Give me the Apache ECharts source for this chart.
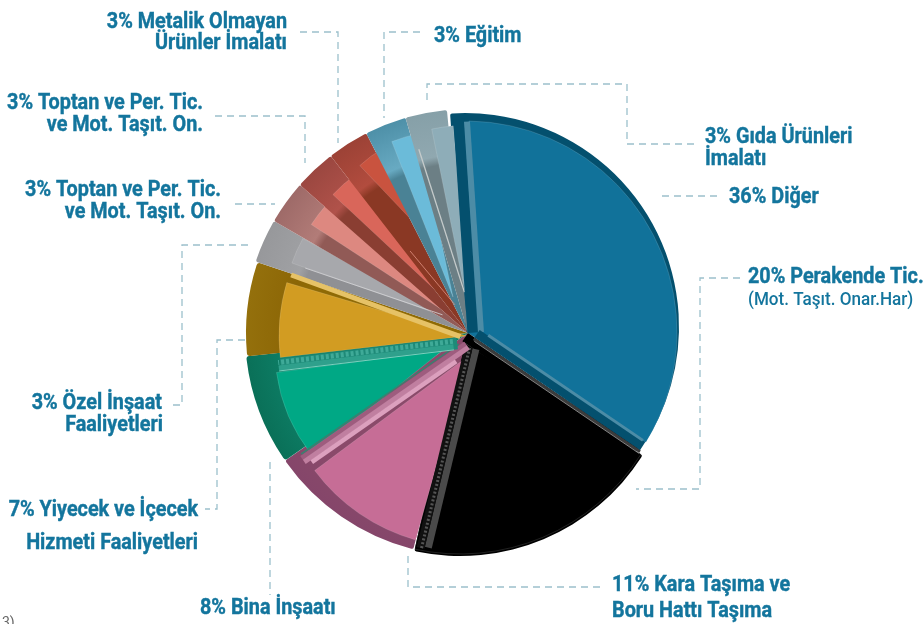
<!DOCTYPE html>
<html><head><meta charset="utf-8">
<style>html,body{margin:0;padding:0;background:#fff}#c{width:924px;height:624px}</style>
<script src="https://cdn.jsdelivr.net/npm/echarts@6/dist/echarts.min.js"></script>
</head><body><div id="c"></div>
<script>
// ---- chart data ----
const categories = ['Diğer','Perakende Tic.','Kara Taşıma ve Boru Hattı Taşıma','Bina İnşaatı','Yiyecek ve İçecek Hizmeti Faaliyetleri','Özel İnşaat Faaliyetleri','Toptan ve Per. Tic. ve Mot. Taşıt. On.','Toptan ve Per. Tic. ve Mot. Taşıt. On.','Metalik Olmayan Ürünler İmalatı','Eğitim','Gıda Ürünleri İmalatı'];
const values = [36,20,11,8,7,3,3,3,3,3,3];
const firstAngle = 95.4;
// ---- styles ----
const apex = [468,333];
const faceColors = ['#11729A','#000000','#C66D96','#00A885','#D29C22','#A7A8AC','#DD8880','#D9665A','#C9533F','#6BBBD9','#8EADB8'];
const sideColors = [['#04506E','#04506E','#04506E'],['#000','#000','#000'],['#8A4A6A','#8A4A6A','#85466A'],['#0C7C64','#0E8068','#0A7058'],['#8F6A05','#8C6606','#94700C'],['#8F9094','#A0A1A4','#97989B'],['#915A56','#B27C78','#9E6A68'],['#8A3E32','#B0524A','#9B4740'],['#8A3824','#B24C3E','#9C4236'],['#4A8295','#68AAC2','#4E90A8'],['#6C7F85','#90A8B0','#86A0A8']];
const sideCenters = [[465,327],[460,340],apex,apex,apex,apex,apex,apex,apex,apex,apex];
const sideRadii = [214,216,223,223,222,224,224,224,224,224,224];
const sideCorners = [2,2,2,3,3,2,2,2,2,2,2];
const sideAdjust = [[-1.4,-1.4],[1.9,4],[2,.7],[.7,.6],[.6,1.2],[1.2,.6],[.6,0],[0,0],[0,0],[0,0],[0,0]];
const faceCenters = [[466,332],[460,340],[467,357],[443,350],[467,336],[444,316],[447,313],[447,301],[439,249],[453,297],[472,327]];
const faceRadii = [211,214,190,168,188,161,162,156,115,167,202];
const faceAngles = [[89.2,-31.5],[-32.3,-102.2],[254.3,216.7],[218.7,187.7],[186.6,163.5],[160.8,151.2],[146.9,138],[137,126],[133.5,119],[111.5,102],[101.5,95.3]];
const leaderColor = '#9CC0CC';
const textColor = '#13759D';
// edge bands: slice index, edge (0 start / 1 end), tilt, perpendicular offset, radial range, width, colour
const bands = [
 [1,0,0,5,0,205,10,'#000'],[1,0,0,1.6,8,209,3,'#3C3C3C'],[1,0,0,3.4,10,209,.7,'#BDBDBD'],
 [1,1,2.7,-11.5,14,218,7,'#4A4A4A'],[1,1,2.7,-4,14,220,8,'#111'],[1,1,2.7,-5,14,220,3,'#555',[2,2]],
 [2,1,.7,-7.5,8,208,5,'#9E5C7E'],[2,1,.7,-12,8,208,5,'#C07FA0'],[2,1,.7,-16.5,26,202,4.5,'#DCA0BE'],[2,1,.7,-3.8,14,206,1.6,'#3C7F70'],
 [3,1,1.5,-9,12,190,12,'#1E8A78'],[3,1,1.5,-6.5,16,192,5,'#3FAA98',[3,2]],[3,1,1.5,-12,16,192,5,'#2FA08C'],[3,1,1.5,-15,16,192,1,'#7AD0BE'],
 [4,1,-.2,-6,6,186,5,'#E6C266'],
 [5,0,1,9,30,175,.8,'#D5D6D8'],[8,0,2,8,30,100,.8,'#E09080'],[10,0,1.5,9,40,190,1.3,'#C5CBCB'],
 [0,0,-1.6,5,0,214,11,'#04506E'],[0,0,-1.6,13,0,211,6,'#4C8CA6'],
 [0,1,0,-4.5,8,207,9,'#04506E'],[0,1,0,-9.5,18,205,3,'#4C8CA6']
];
// ---- labels ----
const labelLines = [
 ['3% Metalik Olmayan',287,22,'right',22],['Ürünler İmalatı',287,43,'right',22],
 ['3% Eğitim',434,36,'left',22],
 ['3% Gıda Ürünleri',705,137,'left',22],['İmalatı',705,159,'left',22],
 ['36% Diğer',729,197,'left',22],
 ['20% Perakende Tic.',748,277,'left',22],['(Mot. Taşıt. Onar.Har)',748,300,'left',19,'500'],
 ['11% Kara Taşıma ve',612,585,'left',22],['Boru Hattı Taşıma',612,611,'left',22],
 ['8% Bina İnşaatı',200,608,'left',22],
 ['7% Yiyecek ve İçecek',198,510,'right',22],['Hizmeti Faaliyetleri',198,543,'right',22],
 ['3% Özel İnşaat',162,403,'right',22],['Faaliyetleri',163,425,'right',22],
 ['3% Toptan ve Per. Tic.',203,103,'right',22],['ve Mot. Taşıt. On.',203,125,'right',22],
 ['3% Toptan ve Per. Tic.',221,190,'right',22],['ve Mot. Taşıt. On.',221,212,'right',22]
];
const leaders = [
 [[300,32],[338,32],[338,143]],[[420,32],[384,32],[384,118]],
 [[427,100],[427,84],[627,84],[627,144],[695,144]],[[662,196],[720,196]],
 [[740,278],[700,278],[700,489],[636,489]],[[408,556],[408,587],[600,587]],
 [[270,462],[270,595]],[[245,340],[217,340],[217,509],[205,509]],
 [[248,245],[182,245],[182,405],[170,405]],[[235,204],[275,204]],[[215,116],[305,116],[305,163]]
];
// ---- build ----
const cum = [firstAngle];
values.forEach(v => cum.push(cum[cum.length-1] - v*3.6));
const series = [];
const common = {type:'pie',silent:true,label:{show:false},labelLine:{show:false},animation:false,avoidLabelOverlap:false};
values.forEach((v,i) => {
  const [band,light,dark] = sideColors[i];
  const c = sideCenters[i], R = sideRadii[i];
  const fill = {type:'radial',x:c[0],y:c[1],r:R,global:true,colorStops:[{offset:0,color:band},{offset:.76,color:band},{offset:.8,color:light},{offset:1,color:dark}]};
  series.push(Object.assign({},common,{name:categories[i]+' side',z:10+i*2,center:c,radius:[0,R],startAngle:cum[i]+sideAdjust[i][0],endAngle:cum[i+1]+sideAdjust[i][1],
    data:[{value:v,name:categories[i],itemStyle:{color:fill,borderRadius:sideCorners[i]}}]}));
  series.push(Object.assign({},common,{name:categories[i],z:11+i*2,center:faceCenters[i],radius:[0,faceRadii[i]],startAngle:faceAngles[i][0],endAngle:faceAngles[i][1],
    data:[{value:v,name:categories[i],itemStyle:{color:faceColors[i],borderColor:'rgba(255,255,255,.22)',borderWidth:.6}}]}));
});
series.push({type:'custom',coordinateSystem:'none',silent:true,z:60,animation:false,data:bands.map((b,i)=>[i]),
  renderItem(p){
    const [i,e,tilt,off,r0,r1,w,col,dash] = bands[p.dataIndex];
    const a = (cum[i+e]+tilt)*Math.PI/180, u=[Math.cos(a),-Math.sin(a)], n=[Math.sin(a),Math.cos(a)];
    const pt = r => [apex[0]+u[0]*r+n[0]*off, apex[1]+u[1]*r+n[1]*off];
    const A=pt(r0),B=pt(r1);
    return {type:'line',shape:{x1:A[0],y1:A[1],x2:B[0],y2:B[1]},style:{stroke:col,lineWidth:w,lineDash:dash||null,fill:null}};
  }});
const graphic = [];
leaders.forEach(pts => graphic.push({type:'polyline',silent:true,z:100,shape:{points:pts},style:{stroke:leaderColor,lineWidth:1.3,lineDash:[7,5],fill:null}}));
labelLines.forEach(([t,x,y,al,fs,w]) => graphic.push({type:'text',silent:true,z:100,x,y,scaleX:.9,style:{text:t,textAlign:al,textVerticalAlign:'middle',fill:textColor,stroke:textColor,lineWidth:w?0:.4,font:(w||'bold')+' '+fs+'px Roboto'}}));
graphic.push({type:'text',silent:true,x:2,y:616,style:{text:'3)',fill:'#666',font:'14px Roboto'}});
const chart = echarts.init(document.getElementById('c'),null,{renderer:'canvas'});
chart.setOption({animation:false,backgroundColor:'#fff',series,graphic});
</script></body></html>
